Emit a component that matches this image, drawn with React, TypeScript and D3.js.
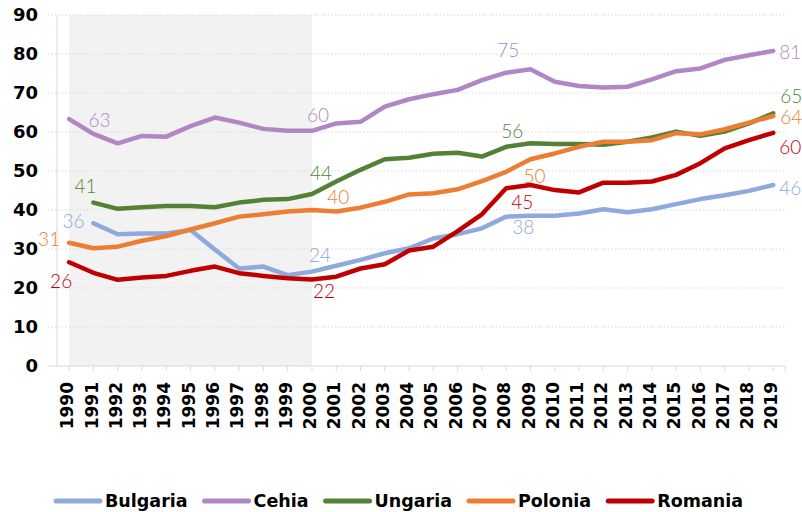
import React, { useEffect, useRef } from 'react';
import * as d3 from 'd3';

const years = d3.range(1990, 2020).map(String);

const bulgaria = [null, 36.6, 33.8, 34.0, 34.0, 34.9, 29.9, 25.0, 25.5, 23.3, 24.2, 25.7, 27.2, 28.9, 30.2, 32.7, 33.8, 35.3, 38.3, 38.5, 38.5, 39.1, 40.2, 39.4, 40.2, 41.5, 42.8, 43.8, 44.9, 46.4];
const cehia = [63.3, 59.5, 57.1, 59.0, 58.8, 61.5, 63.7, 62.4, 60.8, 60.3, 60.3, 62.2, 62.6, 66.5, 68.4, 69.7, 70.8, 73.3, 75.2, 76.1, 72.9, 71.8, 71.4, 71.6, 73.5, 75.6, 76.3, 78.5, 79.7, 80.8];
const ungaria = [null, 41.9, 40.3, 40.7, 41.0, 41.0, 40.7, 41.9, 42.6, 42.8, 44.1, 47.3, 50.3, 53.0, 53.4, 54.4, 54.7, 53.7, 56.2, 57.1, 56.9, 56.9, 56.7, 57.5, 58.6, 60.1, 59.0, 60.1, 62.2, 64.8];
const polonia = [31.6, 30.2, 30.6, 32.1, 33.3, 35.0, 36.6, 38.3, 38.9, 39.6, 40.0, 39.6, 40.6, 42.1, 44.0, 44.3, 45.3, 47.4, 49.8, 53.0, 54.5, 56.2, 57.5, 57.5, 57.9, 59.7, 59.4, 60.7, 62.4, 64.1];
const romania = [26.6, 23.9, 22.1, 22.7, 23.1, 24.4, 25.5, 23.8, 23.1, 22.5, 22.2, 22.9, 25.0, 26.1, 29.6, 30.6, 34.6, 38.9, 45.6, 46.4, 45.1, 44.5, 47.0, 47.0, 47.3, 49.0, 52.0, 55.8, 57.9, 59.8];

const seriesNames = ['Bulgaria', 'Cehia', 'Ungaria', 'Polonia', 'Romania'];
const seriesValues = [bulgaria, cehia, ungaria, polonia, romania];
const colors = ['#8EA9DB', '#B087C4', '#548235', '#ED7D31', '#C00000'];
const yTicks = [0, 10, 20, 30, 40, 50, 60, 70, 80, 90];

// etichete: serie, an, text, deplasare fata de punct
const labels = [
  { s: 1, year: '1991', text: '63', dx: 6, dy: -7 },
  { s: 1, year: '2000', text: '60', dx: 6, dy: -9 },
  { s: 1, year: '2008', text: '75', dx: 2, dy: -16 },
  { s: 1, year: '2019', text: '81', dx: 17, dy: 8 },
  { s: 2, year: '1991', text: '41', dx: -8, dy: -10 },
  { s: 2, year: '2000', text: '44', dx: 9, dy: -14 },
  { s: 2, year: '2008', text: '56', dx: 6, dy: -9 },
  { s: 2, year: '2019', text: '65', dx: 18, dy: -10 },
  { s: 0, year: '1991', text: '36', dx: -20, dy: 5 },
  { s: 0, year: '2000', text: '24', dx: 8, dy: -10 },
  { s: 0, year: '2008', text: '38', dx: 17, dy: 17 },
  { s: 0, year: '2019', text: '46', dx: 17, dy: 10 },
  { s: 3, year: '1990', text: '31', dx: -20, dy: 3 },
  { s: 3, year: '2001', text: '40', dx: 2, dy: -8 },
  { s: 3, year: '2009', text: '50', dx: 4, dy: 24 },
  { s: 3, year: '2019', text: '64', dx: 18, dy: 8 },
  { s: 4, year: '1990', text: '26', dx: -8, dy: 26 },
  { s: 4, year: '2000', text: '22', dx: 12, dy: 19 },
  { s: 4, year: '2008', text: '45', dx: 16, dy: 21 },
  { s: 4, year: '2019', text: '60', dx: 17, dy: 21 },
];

const width = 802;
const height = 512;

export default function App() {
  const svgRef = useRef<SVGSVGElement>(null);

  useEffect(() => {
    const svg = d3.select(svgRef.current);
    svg.selectAll('*').remove();

    const x = d3.scaleBand().domain(years).range([57, 785.4]).padding(0);
    const cx = (yr: string) => (x(yr) as number) + x.bandwidth() / 2;
    const y = d3.scaleLinear().domain([0, 90]).range([366, 15]);

    // zona gri 1990-2000
    svg.append('rect')
      .attr('x', cx('1990'))
      .attr('y', y(90))
      .attr('width', cx('2000') - cx('1990'))
      .attr('height', y(0) - y(90))
      .attr('fill', '#F2F2F2');

    // grila
    svg.append('g')
      .selectAll('line')
      .data(yTicks.filter(d => d > 0))
      .join('line')
      .attr('x1', 48)
      .attr('x2', 785)
      .attr('y1', d => y(d))
      .attr('y2', d => y(d))
      .attr('stroke', '#D9D9D9')
      .attr('stroke-dasharray', '1.5,2');

    // axe
    svg.append('line')
      .attr('x1', 57).attr('x2', 57)
      .attr('y1', y(90)).attr('y2', y(0))
      .attr('stroke', '#D9D9D9');
    svg.append('line')
      .attr('x1', 48).attr('x2', 785.4)
      .attr('y1', y(0)).attr('y2', y(0))
      .attr('stroke', '#D9D9D9');
    svg.append('g')
      .selectAll('line')
      .data([...years.map(cx), 785.4])
      .join('line')
      .attr('x1', d => d).attr('x2', d => d)
      .attr('y1', y(0)).attr('y2', y(0) + 5)
      .attr('stroke', '#D9D9D9');

    svg.append('g')
      .selectAll('text')
      .data(yTicks)
      .join('text')
      .attr('x', 38)
      .attr('y', d => y(d))
      .attr('dy', '0.36em')
      .attr('text-anchor', 'end')
      .attr('font-family', 'DejaVu Sans')
      .attr('font-weight', 'bold')
      .attr('font-size', 18)
      .text(d => d);

    svg.append('g')
      .selectAll('text')
      .data(years)
      .join('text')
      .attr('transform', d => `translate(${cx(d) - 2},382) rotate(-90)`)
      .attr('dy', '0.36em')
      .attr('text-anchor', 'end')
      .attr('font-family', 'DejaVu Sans')
      .attr('font-weight', 'bold')
      .attr('font-size', 17)
      .text(d => d);

    // linii
    const line = d3.line<number | null>()
      .defined(d => d !== null)
      .x((d, i) => cx(years[i]))
      .y(d => y(d as number));

    seriesValues.forEach((vals, s) => {
      svg.append('path')
        .datum(vals)
        .attr('d', line)
        .attr('fill', 'none')
        .attr('stroke', colors[s])
        .attr('stroke-width', 4.5)
        .attr('stroke-linejoin', 'round')
        .attr('stroke-linecap', 'round');
    });

    // etichete
    svg.append('g')
      .selectAll('text')
      .data(labels)
      .join('text')
      .attr('x', d => cx(d.year) + d.dx)
      .attr('y', d => y(seriesValues[d.s][years.indexOf(d.year)] as number) + d.dy)
      .attr('text-anchor', 'middle')
      .attr('font-family', 'Lato, Liberation Sans, sans-serif')
      .attr('font-weight', 300)
      .attr('font-size', 19)
      .attr('fill', d => colors[d.s])
      .text(d => d.text);

    // legenda
    const legend = svg.append('g').attr('transform', 'translate(54,501)');
    let lx = 0;
    seriesNames.forEach((name, s) => {
      legend.append('line')
        .attr('x1', lx + 2).attr('x2', lx + 46)
        .attr('stroke', colors[s])
        .attr('stroke-width', 5)
        .attr('stroke-linecap', 'round');
      const t = legend.append('text')
        .attr('x', lx + 51)
        .attr('dy', '0.36em')
        .attr('font-family', 'DejaVu Sans')
        .attr('font-weight', 'bold')
        .attr('font-size', 17.5)
        .text(name);
      const w = (t.node() as SVGTextElement).getComputedTextLength();
      lx += 51 + w + 15;
    });
  }, []);

  return (
    <svg
      ref={svgRef}
      width={width}
      height={height}
      style={{ position: 'absolute', left: 0, top: 0, background: '#fff' }}
    ></svg>
  );
}
